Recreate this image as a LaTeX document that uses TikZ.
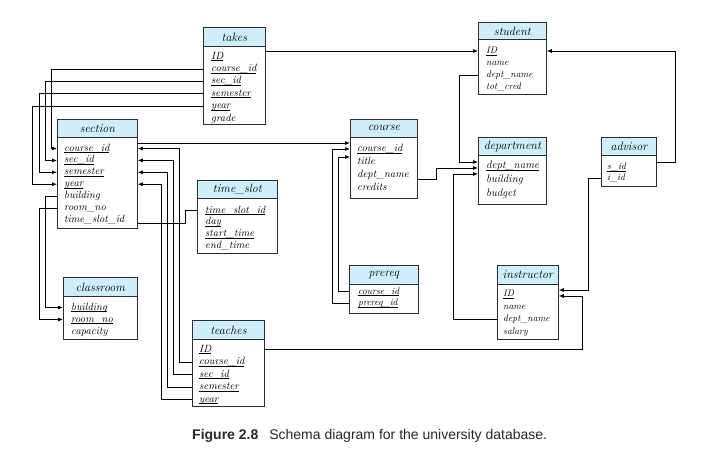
\documentclass[tikz,border=0pt]{standalone}
\usepackage{fontspec}
\newfontfamily\capfont{Liberation Sans}
\usetikzlibrary{arrows.meta,calc}
\definecolor{hdrc}{RGB}{205,238,250}
\definecolor{boxc}{RGB}{45,45,45}
\definecolor{capc}{RGB}{40,40,40}
\newcommand{\uk}[1]{\setbox0\hbox{#1}\rlap{\rule[-1.6pt]{\wd0}{0.45pt}}\box0}
\begin{document}
\begin{tikzpicture}[x=1pt,y=-1pt,
  hdr/.style={draw=boxc, fill=hdrc, line width=0.8pt, anchor=north west, inner sep=0pt, font=\fontsize{12}{14}\selectfont\itshape},
  bdy/.style={draw=boxc, line width=0.8pt, anchor=north west, inner sep=0pt},
  att/.style={anchor=west, inner sep=0pt, text height=7pt, text depth=2pt, font=\fontsize{10.5}{12}\selectfont\itshape},
  attsm/.style={att, font=\fontsize{9.5}{11}\selectfont\itshape},
  attlg/.style={att, font=\fontsize{11}{13}\selectfont\itshape},
  con/.style={draw=black, line width=0.75pt},
  fk/.style={con, -{Latex[length=5pt,width=4pt]}}]
\useasboundingbox (0,0) rectangle (712,463);

% column coordinates for vertical runs
\coordinate (c51) at (51,0);
\coordinate (c45) at (45,0);
\coordinate (c39) at (39,0);
\coordinate (c32) at (32,0);
\coordinate (c179) at (179,0);
\coordinate (c173) at (173,0);
\coordinate (c167) at (167,0);
\coordinate (c161) at (161,0);
\coordinate (c185) at (185,0);
\coordinate (c338) at (338,0);
\coordinate (c332) at (332,0);
\coordinate (c436) at (436,0);
\coordinate (c453) at (453,0);
\coordinate (c459) at (459,0);
\coordinate (c582) at (582,0);
\coordinate (c588) at (588,0);
\coordinate (c675) at (675,0);

% takes
\node[bdy, minimum width=62, minimum height=78] (takesb) at (203,46) {};
\node[hdr, minimum width=62, minimum height=19] (takesh) at (203,27) {takes};
\node[att] (takes-id) at (211,56.5) {\uk{ID}};
\node[att] (takes-cid) at (211,68.9) {\uk{course\_id}};
\node[att] (takes-sid) at (211,81.3) {\uk{sec\_id}};
\node[att] (takes-sem) at (211,93.7) {\uk{semester}};
\node[att] (takes-yr) at (211,106.1) {\uk{year}};
\node[att] (takes-gr) at (211,118.5) {grade};

% student
\node[bdy, minimum width=68, minimum height=55] (studentb) at (478,39) {};
\node[hdr, minimum width=68, minimum height=17] (studenth) at (478,22) {student};
\node[attsm] (student-id) at (486,51) {\uk{ID}};
\node[attsm] (student-nm) at (486,63) {name};
\node[attsm] (student-dn) at (486,75) {dept\_name};
\node[attsm] (student-tc) at (486,87) {tot\_cred};

% section
\node[bdy, minimum width=80, minimum height=91] (sectionb) at (57,137) {};
\node[hdr, minimum width=80, minimum height=18] (sectionh) at (57,119) {section};
\node[att] (section-cid) at (64,148.5) {\uk{course\_id}};
\node[att] (section-sid) at (64,160.4) {\uk{sec\_id}};
\node[att] (section-sem) at (64,172.3) {\uk{semester}};
\node[att] (section-yr) at (64,184.2) {\uk{year}};
\node[att] (section-bld) at (64,196.1) {building};
\node[att] (section-rn) at (64,208) {room\_no};
\node[att] (section-ts) at (64,219.9) {time\_slot\_id};

% course
\node[bdy, minimum width=67, minimum height=61] (courseb) at (350,137) {};
\node[hdr, minimum width=67, minimum height=18] (courseh) at (350,119) {course};
\node[att] (course-cid) at (357,149) {\uk{course\_id}};
\node[att] (course-tt) at (357,162) {title};
\node[att] (course-dn) at (357,175) {dept\_name};
\node[att] (course-cr) at (357,188) {credits};

% department
\node[bdy, minimum width=68, minimum height=49] (departmentb) at (478,155) {};
\node[hdr, minimum width=68, minimum height=18] (departmenth) at (478,137) {department};
\node[attlg] (department-dn) at (486,166) {\uk{dept\_name}};
\node[attlg] (department-bl) at (486,180) {building};
\node[attlg] (department-bu) at (486,194) {budget};

% advisor
\node[bdy, minimum width=55, minimum height=31] (advisorb) at (601,155) {};
\node[hdr, minimum width=55, minimum height=18] (advisorh) at (601,137) {advisor};
\node[attsm] (advisor-sid) at (607,167) {\uk{s\_id}};
\node[attsm] (advisor-iid) at (607,178) {i\_id};

% time_slot
\node[bdy, minimum width=80, minimum height=55] (timeslotb) at (197,198) {};
\node[hdr, minimum width=80, minimum height=18] (timesloth) at (197,180) {time\_slot};
\node[att] (timeslot-ts) at (205,210.5) {\uk{time\_slot\_id}};
\node[att] (timeslot-dy) at (205,222.3) {\uk{day}};
\node[att] (timeslot-st) at (205,234.1) {\uk{start\_time}};
\node[att] (timeslot-et) at (205,245.9) {end\_time};

% classroom
\node[bdy, minimum width=74, minimum height=43] (classroomb) at (63,296) {};
\node[hdr, minimum width=74, minimum height=19] (classroomh) at (63,277) {classroom};
\node[att] (classroom-bld) at (71,307.5) {\uk{building}};
\node[att] (classroom-rn) at (71,319.5) {\uk{room\_no}};
\node[att] (classroom-cap) at (71,331.5) {capacity};

% prereq
\node[bdy, minimum width=69, minimum height=29] (prereqb) at (349,284) {};
\node[hdr, minimum width=69, minimum height=19] (prereqh) at (349,265) {prereq};
\node[attsm] (prereq-cid) at (358,291.5) {\uk{course\_id}};
\node[attsm] (prereq-pid) at (358,303) {\uk{prereq\_id}};

% instructor
\node[bdy, minimum width=61, minimum height=55] (instructorb) at (497,284) {};
\node[hdr, minimum width=61, minimum height=19] (instructorh) at (497,265) {instructor};
\node[attsm] (instructor-id) at (503,294) {\uk{ID}};
\node[attsm] (instructor-nm) at (503,306.5) {name};
\node[attsm] (instructor-dn) at (503,319) {dept\_name};
\node[attsm] (instructor-sa) at (503,331.5) {salary};

% teaches
\node[bdy, minimum width=72, minimum height=67] (teachesb) at (192,339) {};
\node[hdr, minimum width=72, minimum height=19] (teachesh) at (192,320) {teaches};
\node[att] (teaches-id) at (199,349.5) {\uk{ID}};
\node[att] (teaches-cid) at (199,362) {\uk{course\_id}};
\node[att] (teaches-sid) at (199,374.5) {\uk{sec\_id}};
\node[att] (teaches-sem) at (199,387) {\uk{semester}};
\node[att] (teaches-yr) at (199,399.5) {\uk{year}};

% ---- connectors ----
% takes -> student
\draw[fk] (takesb.east |- student-id) -- (studentb.west |- student-id);
% advisor -> student
\draw[fk] ($(advisorb.east |- advisor-sid)+(0,-4.5)$) -| (c675 |- student-id) -- (studentb.east |- student-id);
% advisor -> instructor
\draw[fk] (advisorb.west |- advisor-iid) -| ($(c588 |- instructor-id)+(0,-4)$) -- ($(instructorb.east |- instructor-id)+(0,-4)$);
% teaches -> instructor
\draw[fk] (teachesb.east |- teaches-id) -| ($(c582 |- instructor-id)+(0,2)$) -- ($(instructorb.east |- instructor-id)+(0,2)$);
% student -> department
\draw[fk] (studentb.west |- student-dn) -| ($(c459 |- department-dn)+(0,-4)$) -- ($(departmentb.west |- department-dn)+(0,-4)$);
% course -> department
\draw[fk] ($(courseb.east |- course-dn)+(0,4)$) -| ($(c436 |- department-dn)+(0,2)$) -- ($(departmentb.west |- department-dn)+(0,2)$);
% instructor -> department
\draw[fk] (instructorb.west |- instructor-dn) -| ($(c453 |- department-dn)+(0,8)$) -- ($(departmentb.west |- department-dn)+(0,8)$);
% section -> course
\draw[fk] ($(sectionb.east |- section-cid)+(0,-5.5)$) -- ($(courseb.west |- section-cid)+(0,-5.5)$);
% prereq -> course
\draw[fk] (prereqb.west |- prereq-cid) -| ($(c338 |- course-cid)+(0,8)$) -- ($(courseb.west |- course-cid)+(0,8)$);
\draw[fk] (prereqb.west |- prereq-pid) -| (c332 |- course-cid) -- (courseb.west |- course-cid);
% takes -> section
\draw[fk] (takesb.west |- takes-cid) -| (c51 |- section-cid) -- (sectionb.west |- section-cid);
\draw[fk] (takesb.west |- takes-sid) -| (c45 |- section-sid) -- (sectionb.west |- section-sid);
\draw[fk] (takesb.west |- takes-sem) -| (c39 |- section-sem) -- (sectionb.west |- section-sem);
\draw[fk] (takesb.west |- takes-yr) -| (c32 |- section-yr) -- (sectionb.west |- section-yr);
% section -> classroom
\draw[fk] (sectionb.west |- section-bld) -| (c45 |- classroom-bld) -- (classroomb.west |- classroom-bld);
\draw[fk] (sectionb.west |- section-rn) -| (c39 |- classroom-rn) -- (classroomb.west |- classroom-rn);
% section -> time_slot
\draw[con] ($(sectionb.east |- section-ts)+(0,3)$) -| (c185 |- timeslot-ts) -- (timeslotb.west |- timeslot-ts);
% teaches -> section
\draw[fk] (teachesb.west |- teaches-cid) -| (c179 |- section-cid) -- (sectionb.east |- section-cid);
\draw[fk] (teachesb.west |- teaches-sid) -| (c173 |- section-sid) -- (sectionb.east |- section-sid);
\draw[fk] (teachesb.west |- teaches-sem) -| (c167 |- section-sem) -- (sectionb.east |- section-sem);
\draw[fk] (teachesb.west |- teaches-yr) -| (c161 |- section-yr) -- (sectionb.east |- section-yr);

% caption
\node[anchor=west, inner sep=0pt, text=capc, font=\capfont\fontsize{14}{16}\selectfont] (caption) at (192,436)
  {\textbf{Figure 2.8}\hspace{11pt}Schema diagram for the university database.};
\end{tikzpicture}
\end{document}
